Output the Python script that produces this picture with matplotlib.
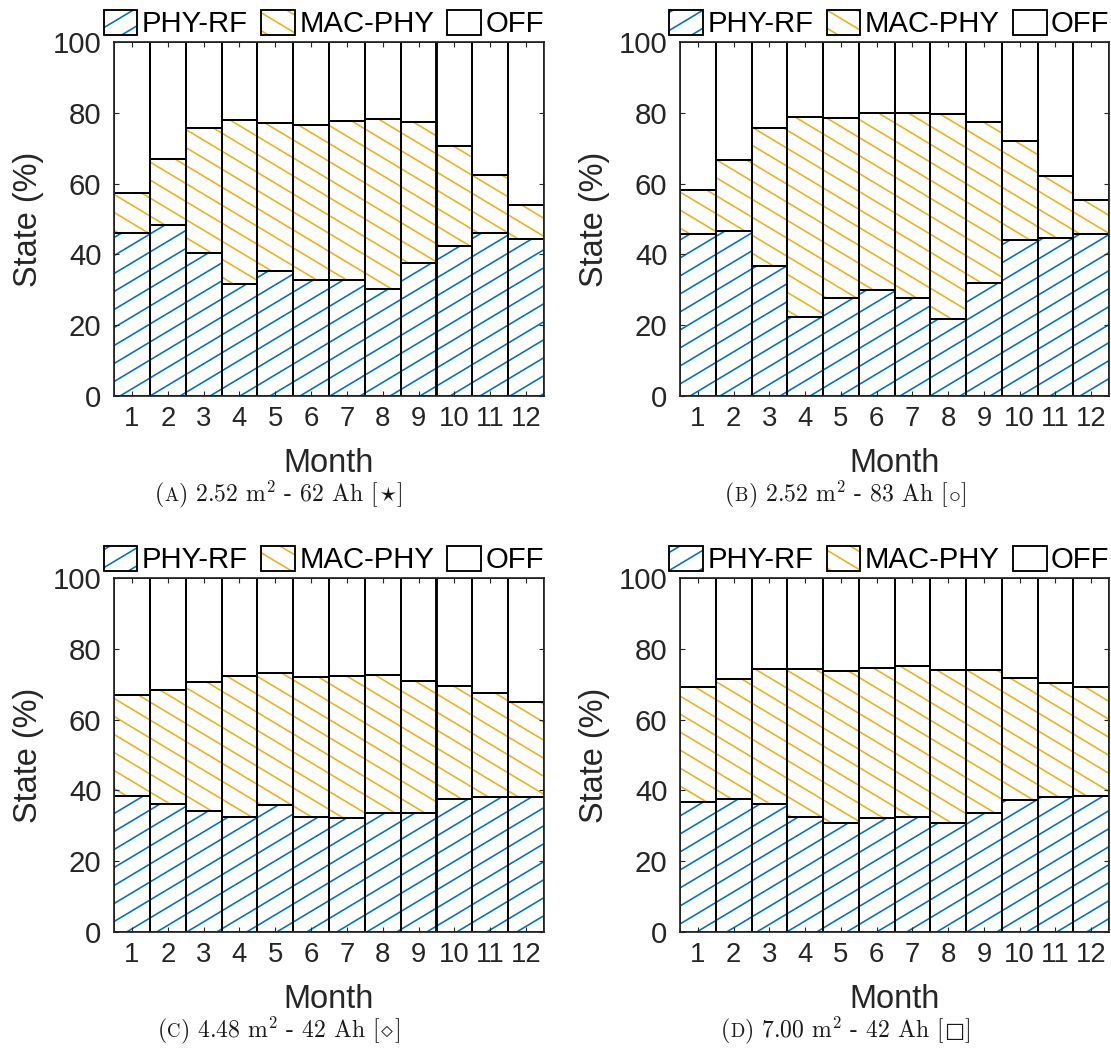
import numpy as np
import matplotlib
matplotlib.use('Agg')
import matplotlib.pyplot as plt
import matplotlib.hatch as mhatch
from matplotlib.path import Path
from matplotlib.patches import Patch
from matplotlib.offsetbox import TextArea, HPacker, AnnotationBbox

# ---------------- data ----------------
months = list(range(1, 13))
month_labels = [str(m) for m in months]
series_names = ['PHY-RF', 'MAC-PHY', 'OFF']

phy_a = [46.0, 48.4, 40.5, 31.5, 35.2, 32.9, 32.7, 30.1, 37.5, 42.4, 46.0, 44.3]
mac_a = [11.4, 18.6, 35.2, 46.5, 42.0, 43.7, 44.9, 48.1, 39.8, 28.2, 16.4, 9.7]

phy_b = [45.9, 46.5, 36.7, 22.3, 27.7, 30.0, 27.7, 21.8, 32.0, 44.2, 44.5, 45.9]
mac_b = [12.2, 20.1, 39.1, 56.5, 50.9, 49.9, 52.2, 58.0, 45.5, 27.7, 17.6, 9.4]

phy_c = [38.4, 36.2, 34.2, 32.5, 35.8, 32.5, 32.2, 33.5, 33.7, 37.5, 38.0, 38.2]
mac_c = [28.5, 32.3, 36.5, 39.7, 37.5, 39.6, 40.2, 39.1, 37.1, 31.9, 29.6, 26.9]

phy_d = [36.8, 37.6, 36.2, 32.6, 30.8, 32.2, 32.4, 30.8, 33.7, 37.2, 38.2, 38.5]
mac_d = [32.3, 34.0, 38.1, 41.7, 42.9, 42.5, 42.8, 43.3, 40.3, 34.6, 32.2, 30.6]

caption_letters = ['A', 'B', 'C', 'D']
caption_texts = [r' 2.52 m$^2$ - 62 Ah [',
                 r' 2.52 m$^2$ - 83 Ah [',
                 r' 4.48 m$^2$ - 42 Ah [',
                 r' 7.00 m$^2$ - 42 Ah [']
caption_symbols = [r'$\star$', r'$\circ$', r'$\diamond$', '□']

BLUE = '#0072BD'
ORANGE = '#EDB120'

# ---------------- shallow hatch patterns (MATLAB-like) ----------------
class ShallowNE(mhatch.HatchPatternBase):
    def __init__(self, hatch, density):
        n = hatch.count('/')
        self.offsets = np.arange(-0.8, 1.2001, 0.2) if n else np.empty(0)
        self.num_vertices = 2 * len(self.offsets)

    def set_vertices_and_codes(self, vertices, codes):
        c = self.offsets
        vertices[0::2, 0] = 0.0
        vertices[0::2, 1] = c
        vertices[1::2, 0] = 1.0
        vertices[1::2, 1] = c + 0.6
        codes[0::2] = Path.MOVETO
        codes[1::2] = Path.LINETO


class ShallowSE(mhatch.HatchPatternBase):
    def __init__(self, hatch, density):
        n = hatch.count('\\')
        self.offsets = np.arange(-0.2, 1.8001, 0.2) if n else np.empty(0)
        self.num_vertices = 2 * len(self.offsets)

    def set_vertices_and_codes(self, vertices, codes):
        c = self.offsets
        vertices[0::2, 0] = 0.0
        vertices[0::2, 1] = c
        vertices[1::2, 0] = 1.0
        vertices[1::2, 1] = c - 0.6
        codes[0::2] = Path.MOVETO
        codes[1::2] = Path.LINETO


for i, t in enumerate(mhatch._hatch_types):
    if t is mhatch.NorthEastHatch:
        mhatch._hatch_types[i] = ShallowNE
    elif t is mhatch.SouthEastHatch:
        mhatch._hatch_types[i] = ShallowSE

# ---------------- style ----------------
plt.rcParams['font.family'] = ['Liberation Sans', 'DejaVu Sans']
plt.rcParams['mathtext.fontset'] = 'cm'
plt.rcParams['hatch.linewidth'] = 1.3

DPI = 90
W, H = 1111, 1053
fig = plt.figure(figsize=(W / DPI, H / DPI), dpi=DPI)

def frac_rect(left, top, width, height):
    return [left / W, 1 - (top + height) / H, width / W, height / H]

axes_rects = [frac_rect(114, 42, 430, 354), frac_rect(680, 42, 429, 354),
              frac_rect(114, 578, 430, 354), frac_rect(680, 578, 429, 354)]
caption_pos = [(279 / W, 1 - 494 / H), (846 / W, 1 - 494 / H),
               (279 / W, 1 - 1030 / H), (846 / W, 1 - 1030 / H)]

panels = [(phy_a, mac_a), (phy_b, mac_b), (phy_c, mac_c), (phy_d, mac_d)]

EDGE_LW = 1.5

def draw_panel(ax, phy, mac):
    phy = np.asarray(phy, float)
    mac = np.asarray(mac, float)
    top = phy + mac
    off = 100.0 - top
    x = np.array(months)
    ax.bar(x, phy, width=1, color='white', edgecolor=BLUE, hatch='/', linewidth=0)
    ax.bar(x, mac, width=1, bottom=phy, color='white', edgecolor=ORANGE, hatch='\\', linewidth=0)
    ax.bar(x, off, width=1, bottom=top, color='white', linewidth=0)
    for h, b in [(phy, 0), (mac, phy), (off, top)]:
        ax.bar(x, h, width=1, bottom=b, fill=False, edgecolor='black', linewidth=EDGE_LW)

    ax.set_xlim(0.5, 12.5)
    ax.set_ylim(0, 100)
    ax.set_xticks(months)
    ax.set_xticklabels(month_labels)
    ax.set_yticks([0, 20, 40, 60, 80, 100])
    ax.tick_params(direction='in', top=True, right=True, length=4, width=0.9,
                   color='#262626', labelcolor='#262626')
    ax.tick_params(axis='x', labelsize=22, pad=8)
    ax.tick_params(axis='y', labelsize=23.5, pad=10)
    for s in ax.spines.values():
        s.set_linewidth(1.4)
        s.set_color('#262626')
    ax.set_xlabel('Month', fontsize=26, labelpad=13, color='#262626')
    ax.set_ylabel('State (%)', fontsize=26, labelpad=7, color='#262626')

    handles = [
        (Patch(facecolor='white', edgecolor=BLUE, hatch='/', linewidth=0),
         Patch(fill=False, edgecolor='black', linewidth=EDGE_LW)),
        (Patch(facecolor='white', edgecolor=ORANGE, hatch='\\', linewidth=0),
         Patch(fill=False, edgecolor='black', linewidth=EDGE_LW)),
        (Patch(facecolor='white', linewidth=0),
         Patch(fill=False, edgecolor='black', linewidth=EDGE_LW)),
    ]
    ax.legend(handles, series_names, loc='lower center', bbox_to_anchor=(0.488, 1.0),
              ncol=3, frameon=False, fontsize=23.5, borderpad=0, borderaxespad=0.12,
              handlelength=1.15, handleheight=0.9, handletextpad=0.15,
              columnspacing=0.45)


def caption(fig, pos, letter, rest, symbol):
    tp = dict(fontfamily='cmr10', size=19, color='#1a1a1a')
    sym_tp = dict(tp, fontfamily='DejaVu Sans', size=17) if '$' not in symbol else tp
    parts = [TextArea('(', textprops=tp),
             TextArea(letter, textprops=dict(tp, size=15)),
             TextArea(')' + rest, textprops=tp),
             TextArea(symbol, textprops=sym_tp),
             TextArea(']', textprops=tp)]
    box = HPacker(children=parts, align='baseline', pad=0, sep=0)
    ab = AnnotationBbox(box, pos, xycoords='figure fraction', frameon=False,
                        box_alignment=(0.5, 0.5), pad=0)
    fig.add_artist(ab)


for rect, (phy, mac), pos, letter, txt, sym in zip(axes_rects, panels, caption_pos,
                                                    caption_letters, caption_texts,
                                                    caption_symbols):
    ax = fig.add_axes(rect)
    draw_panel(ax, phy, mac)
    caption(fig, pos, letter, txt, sym)

fig.savefig('out.png', dpi=DPI, facecolor='white')
